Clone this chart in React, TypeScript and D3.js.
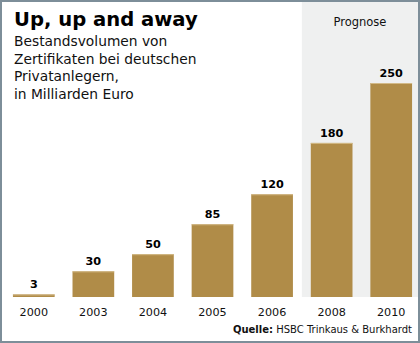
import React from "react";
import * as d3 from "d3";

const years = ["2000", "2003", "2004", "2005", "2006", "2008", "2010"];
const values = [3, 30, 50, 85, 120, 180, 250];
const forecastYears = ["2008", "2010"];
const titleText = "Up, up and away";
const subtitleLines = [
  "Bestandsvolumen von",
  "Zertifikaten bei deutschen",
  "Privatanlegern,",
  "in Milliarden Euro",
];
const forecastLabel = "Prognose";
const sourceBold = "Quelle:";
const sourceText = " HSBC Trinkaus & Burkhardt";

const W = 420;
const H = 343;
const FONT = "'DejaVu Sans', Verdana, sans-serif";
const BAR = "#b08c48";

export default function App() {
  const x = d3.scaleBand<string>().domain(years).range([4, 421]).paddingInner(0.3).paddingOuter(0.15);
  const y = d3.scaleLinear().domain([0, 250]).range([297, 83]);
  const step = x.step();
  const bgX = (x(forecastYears[0]) as number) - (step - x.bandwidth()) / 2;
  const bgRight = 418;

  return (
    <svg
      width={W}
      height={H}
      style={{ position: "fixed", left: 0, top: 0, display: "block" }}
      fontFamily={FONT}
    >
      <rect x={0} y={0} width={W} height={H} fill="#ffffff" />
      <rect x={bgX} y={1} width={bgRight - bgX} height={y(0) - 1} fill="#eff0f0" />
      <text x={(bgX + bgRight) / 2} y={26} textAnchor="middle" fontSize={11.5} fill="#111">
        {forecastLabel}
      </text>
      <text x={14} y={26} fontSize={19.6} fontWeight="bold" fill="#000">
        {titleText}
      </text>
      {subtitleLines.map((l, i) => (
        <text key={i} x={14} y={46 + i * 17.5} fontSize={13.8} fill="#111">
          {l}
        </text>
      ))}
      {years.map((yr, i) => {
        const bx = x(yr) as number;
        const top = y(values[i]);
        return (
          <g key={yr}>
            <rect x={bx} y={top} width={x.bandwidth()} height={y(0) - top} fill={BAR} />
            <line x1={bx} x2={bx + x.bandwidth()} y1={top + 0.5} y2={top + 0.5} stroke="#d2b987" strokeWidth={1} />
            <text
              x={bx + x.bandwidth() / 2}
              y={top - 6}
              textAnchor="middle"
              fontSize={11.2}
              fontWeight="bold"
              fill="#000"
            >
              {values[i]}
            </text>
            <text x={bx + x.bandwidth() / 2} y={316} textAnchor="middle" fontSize={11.2} fill="#111">
              {yr}
            </text>
          </g>
        );
      })}
      <text x={412} y={333} textAnchor="end" fontSize={10} fill="#111">
        <tspan fontWeight="bold">{sourceBold}</tspan>
        <tspan>{sourceText}</tspan>
      </text>
      <rect x={1} y={1} width={W - 2} height={H - 2} fill="none" stroke="#7d8e99" strokeWidth={2} />
    </svg>
  );
}
